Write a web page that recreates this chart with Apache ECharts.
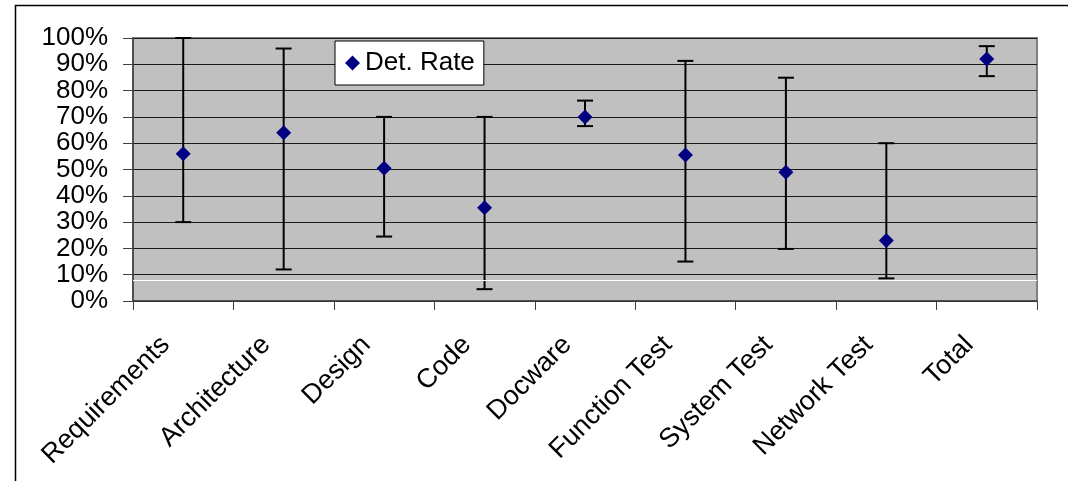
<!DOCTYPE html>
<html>
<head>
<meta charset="utf-8">
<script src="https://cdn.jsdelivr.net/npm/echarts@6/dist/echarts.min.js"></script>
<style>
  html, body { margin: 0; padding: 0; background: #fff; }
  #chart { width: 1068px; height: 481px; }
</style>
</head>
<body>
<div id="chart"></div>
<script>
// Detection rate per phase, with min/max range as error bars.
const categories = ['Requirements', 'Architecture', 'Design', 'Code', 'Docware',
  'Function Test', 'System Test', 'Network Test', 'Total'];
const detRate = [0.56, 0.64, 0.505, 0.355, 0.70, 0.555, 0.49, 0.23, 0.92];
const rangeLow = [0.30, 0.12, 0.245, 0.045, 0.665, 0.15, 0.198, 0.086, 0.855];
const rangeHigh = [1.00, 0.96, 0.70, 0.70, 0.762, 0.913, 0.849, 0.60, 0.969];
const yTicks = [0, 0.1, 0.2, 0.3, 0.4, 0.5, 0.6, 0.7, 0.8, 0.9, 1.0];
// stray white rule that sits just under the 10% gridline in the original
const whiteRule = 0.0825;

const FONT = '"Liberation Sans", Arial, sans-serif';
const chart = echarts.init(document.getElementById('chart'), null, { renderer: 'canvas' });

const errData = categories.map((c, i) => [i, rangeLow[i], rangeHigh[i]]);

chart.setOption({
  animation: false,
  backgroundColor: '#fff',
  textStyle: { fontFamily: FONT },
  graphic: [{
    type: 'rect', z: -10, silent: true,
    shape: { x: 15.5, y: 5.5, width: 1100, height: 500 },
    style: { fill: '#fff', stroke: '#000', lineWidth: 1.5 },
  }],
  grid: {
    left: 133, right: 31, top: 38, bottom: 180, containLabel: false,
    show: true, backgroundColor: '#c0c0c0', borderColor: '#808080', borderWidth: 2,
  },
  legend: {
    left: 335, top: 41, orient: 'horizontal',
    data: [{ name: 'Det. Rate', icon: 'diamond' }],
    itemWidth: 15, itemHeight: 15, itemGap: 6,
    backgroundColor: '#fff', borderColor: '#000', borderWidth: 1,
    padding: [9, 9, 9, 10],
    textStyle: { fontSize: 26, color: '#000', fontFamily: FONT },
  },
  xAxis: {
    type: 'category', data: categories, boundaryGap: true,
    axisLine: { show: true, lineStyle: { color: '#404040', width: 1.5 } },
    axisTick: { show: true, interval: 0, length: 9, lineStyle: { color: '#404040' } },
    axisLabel: {
      interval: 0, rotate: 45, margin: 22, fontSize: 27, color: '#000', fontFamily: FONT,
      padding: [0, 25, 0, 0],
    },
    splitLine: { show: false },
  },
  yAxis: {
    type: 'value', min: 0, max: 1, interval: 0.1,
    axisLine: { show: true, lineStyle: { color: '#404040', width: 1.5 } },
    axisTick: { show: true, length: 10, lineStyle: { color: '#404040' } },
    axisLabel: {
      fontSize: 26, color: '#000', fontFamily: FONT, margin: 25,
      formatter: (v) => Math.round(v * 100) + '%',
      customValues: yTicks,
    },
    splitLine: { show: true, lineStyle: { color: '#1a1a1a', width: 1 } },
  },
  series: [
    {
      name: 'range', type: 'custom', data: errData, z: 3,
      renderItem: (params, api) => {
        const i = api.value(0);
        const lo = api.coord([i, api.value(1)]);
        const hi = api.coord([i, api.value(2)]);
        const cap = 8;
        const st = { stroke: '#000', lineWidth: 2 };
        return {
          type: 'group',
          children: [
            { type: 'line', shape: { x1: lo[0], y1: lo[1], x2: hi[0], y2: hi[1] }, style: st },
            { type: 'line', shape: { x1: lo[0] - cap, y1: lo[1], x2: lo[0] + cap, y2: lo[1] }, style: st },
            { type: 'line', shape: { x1: hi[0] - cap, y1: hi[1], x2: hi[0] + cap, y2: hi[1] }, style: st },
          ],
        };
      },
      markLine: {
        silent: true, symbol: 'none', label: { show: false },
        lineStyle: { color: '#fff', width: 1, type: 'solid' },
        data: [{ yAxis: whiteRule }],
      },
    },
    {
      name: 'Det. Rate', type: 'scatter', data: detRate, z: 5,
      symbol: 'diamond', symbolSize: 15,
      itemStyle: { color: '#000080', opacity: 1 },
    },
  ],
});
</script>
</body>
</html>
